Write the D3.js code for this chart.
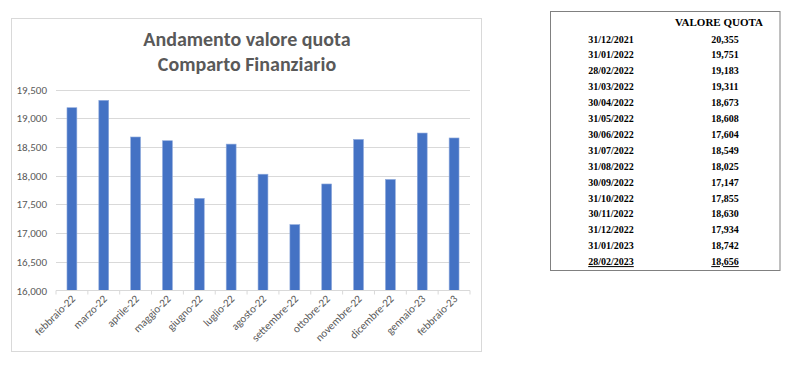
<!DOCTYPE html>
<html><head><meta charset="utf-8">
<script src="https://cdn.jsdelivr.net/npm/d3@7"></script>
<style>body{margin:0;background:#fff}svg{display:block}</style>
</head><body>
<svg id="c" width="800" height="365"></svg>
<script>
const categories = ["febbraio-22","marzo-22","aprile-22","maggio-22","giugno-22","luglio-22","agosto-22","settembre-22","ottobre-22","novembre-22","dicembre-22","gennaio-23","febbraio-23"];
const values = [19183,19311,18673,18608,17604,18549,18025,17147,17855,18630,17934,18742,18656];
const yTicks = [16000,16500,17000,17500,18000,18500,19000,19500];
const titleLines = ["Andamento valore quota","Comparto Finanziario"];
const tableHeader = "VALORE QUOTA";
const tableDates = ["31/12/2021","31/01/2022","28/02/2022","31/03/2022","30/04/2022","31/05/2022","30/06/2022","31/07/2022","31/08/2022","30/09/2022","31/10/2022","30/11/2022","31/12/2022","31/01/2023","28/02/2023"];
const tableValues = ["20,355","19,751","19,183","19,311","18,673","18,608","17,604","18,549","18,025","17,147","17,855","18,630","17,934","18,742","18,656"];

const svg = d3.select("#c");
const font = "Calibri, Carlito, Lato, 'Liberation Sans', Arial, sans-serif";

// chart frame
svg.append("rect").attr("x",11.5).attr("y",18.5).attr("width",470).attr("height",333)
  .attr("fill","#fff").attr("stroke","#d9d9d9");

svg.append("g").selectAll("text").data(titleLines).join("text")
  .attr("x",247).attr("y",(d,i)=>46+i*25).attr("text-anchor","middle")
  .attr("font-family",font).attr("font-weight","bold").attr("font-size",20)
  .attr("fill","#595959").text(d=>d);

const x = d3.scaleBand().domain(categories).range([56,470]).paddingInner(0.69).paddingOuter(0.345);
const xb = d3.scaleBand().domain(categories).range([56,470]);
const y = d3.scaleLinear().domain([16000,19500]).range([290.5,89.5]);

// gridlines
svg.append("g").selectAll("line").data(yTicks.slice(1)).join("line")
  .attr("x1",56).attr("x2",470).attr("y1",d=>Math.round(y(d))+0.5).attr("y2",d=>Math.round(y(d))+0.5)
  .attr("stroke","#d9d9d9");

// y labels
svg.append("g").selectAll("text").data(yTicks).join("text")
  .attr("x",47).attr("y",d=>y(d)+4).attr("text-anchor","end")
  .attr("font-family",font).attr("font-size",11).attr("fill","#595959")
  .text(d=>d3.format(",")(d));

// bars
svg.append("g").selectAll("rect").data(values).join("rect")
  .attr("x",(d,i)=>x(categories[i])).attr("width",x.bandwidth())
  .attr("y",d=>y(d)).attr("height",d=>y(16000)-y(d))
  .attr("fill","#4472c4").attr("stroke","#8faadc").attr("stroke-width",0.6);

// x axis
const xAxis = svg.append("g").attr("transform","translate(0,290.5)");
xAxis.append("line").attr("x1",56).attr("x2",470).attr("stroke","#d9d9d9");
xAxis.selectAll("line.t").data(categories.concat(["end"])).join("line").attr("class","t")
  .attr("x1",(d,i)=>56+i*xb.step()).attr("x2",(d,i)=>56+i*xb.step())
  .attr("y1",0).attr("y2",4).attr("stroke","#d9d9d9");
xAxis.selectAll("text").data(categories).join("text")
  .attr("transform",d=>`translate(${xb(d)+xb.bandwidth()/2+4},9) rotate(-45)`)
  .attr("text-anchor","end").attr("font-family",font).attr("font-size",11)
  .attr("fill","#595959").text(d=>d);

// table
svg.append("rect").attr("x",550.5).attr("y",11.5).attr("width",229.5).attr("height",259)
  .attr("fill","#fff").attr("stroke","#808080");
const tf = "'Liberation Serif','Times New Roman',serif";
svg.append("text").attr("x",719).attr("y",26).attr("text-anchor","middle")
  .attr("font-family",tf).attr("font-weight","bold").attr("font-size",11).attr("fill","#000").text(tableHeader);
const rows = svg.append("g").selectAll("g").data(tableDates).join("g");
rows.append("text").attr("x",611).attr("y",(d,i)=>42.5+i*15.9).attr("text-anchor","middle")
  .attr("font-family",tf).attr("font-weight","bold").attr("font-size",10).attr("fill","#000")
  .attr("text-decoration",(d,i)=>i===tableDates.length-1?"underline":null).text(d=>d);
rows.append("text").attr("x",725).attr("y",(d,i)=>42.5+i*15.9).attr("text-anchor","middle")
  .attr("font-family",tf).attr("font-weight","bold").attr("font-size",10).attr("fill","#000")
  .attr("text-decoration",(d,i)=>i===tableDates.length-1?"underline":null).text((d,i)=>tableValues[i]);
</script>
</body></html>
